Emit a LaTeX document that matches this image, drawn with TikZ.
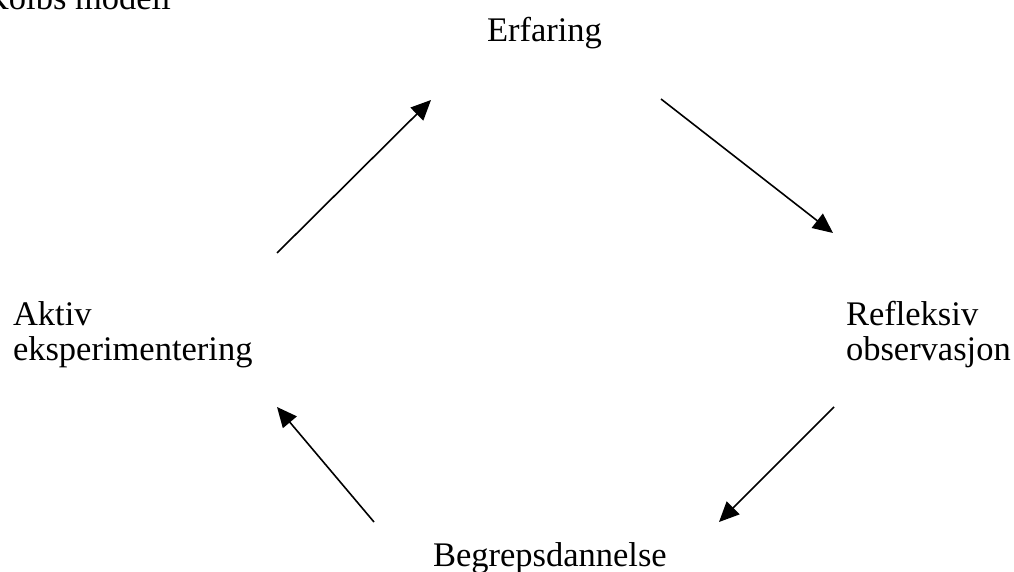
\documentclass[tikz,border=0pt]{standalone}
\usepackage{fontspec}
\setmainfont{Liberation Serif}
\usetikzlibrary{arrows.meta}
\begin{document}
\begin{tikzpicture}[x=1pt,y=-1pt,
  lbl/.style={anchor=base west,inner sep=0pt,outer sep=0pt,font=\fontsize{34.5}{35}\selectfont,align=left},
  cyc/.style={line width=1.6pt,-{Triangle[length=20pt,width=18pt]}}]
\useasboundingbox (0,0) rectangle (1014,572);
\begin{scope}
\clip (0,0) rectangle (1014,572);
\node[lbl] (title) at (-16,10) {Kolbs modell};
\end{scope}
\node[lbl] (erf) at (487,42) {Erfaring};
\node[lbl] (ref) at (846,360) {Refleksiv\\observasjon};
\node[lbl] (beg) at (433,566) {Begrepsdannelse};
\node[lbl] (akt) at (13,360) {Aktiv\\eksperimentering};
\coordinate (a1s) at (277,253); \coordinate (a1e) at (431,100);
\coordinate (a2s) at (661,99);  \coordinate (a2e) at (833,233);
\coordinate (a3s) at (834,407); \coordinate (a3e) at (719,522);
\coordinate (a4s) at (374,522); \coordinate (a4e) at (277,407);
\draw[cyc] (a1s) -- (a1e);
\draw[cyc] (a2s) -- (a2e);
\draw[cyc] (a3s) -- (a3e);
\draw[cyc] (a4s) -- (a4e);
\end{tikzpicture}
\end{document}
